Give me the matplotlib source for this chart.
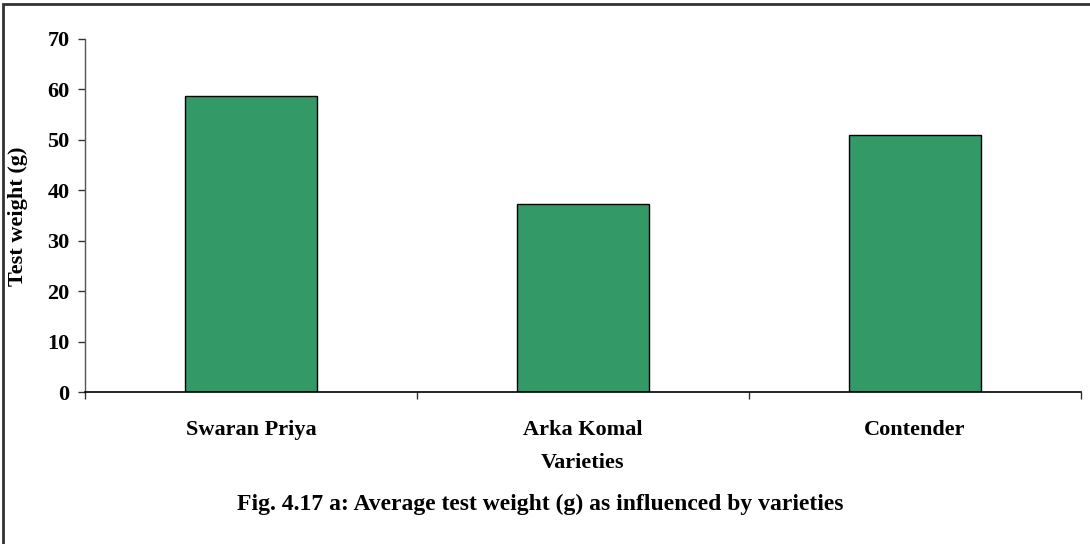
import matplotlib.pyplot as plt
from matplotlib.patches import Rectangle

# average test weight per variety
varieties = ['Swaran Priya', 'Arka Komal', 'Contender']
test_weight = [58.7, 37.3, 51.0]
y_ticks = [0, 10, 20, 30, 40, 50, 60, 70]

plt.rcParams['font.family'] = ['Liberation Serif', 'DejaVu Serif']
plt.rcParams['font.weight'] = 'bold'

W, H = 1090, 544
fig = plt.figure(figsize=(W / 100, H / 100), dpi=100)
ax = fig.add_axes([85 / W, 1 - 392 / H, (1081 - 85) / W, (392 - 39) / H])

x = range(len(varieties))
ax.bar(x, test_weight, width=0.4, color='#339966', edgecolor='black', linewidth=1)

ax.set_xlim(-0.5, len(varieties) - 0.5)
ax.set_ylim(0, 70)
ax.set_yticks(y_ticks)
ax.set_yticklabels([str(t) for t in y_ticks], fontsize=16, fontweight='bold')
ax.set_xticks(list(x))
ax.set_xticklabels(varieties, fontsize=16, fontweight='bold')
ax.set_xticks([i - 0.5 for i in range(len(varieties) + 1)], minor=True)
ax.tick_params(axis='x', which='major', length=0, pad=20)
ax.tick_params(axis='x', which='minor', length=5, direction='out', width=1, color='#333333')
ax.tick_params(axis='y', length=5, width=1, color='#333333', pad=6)

for s in ['top', 'right']:
    ax.spines[s].set_visible(False)
ax.spines['left'].set_color('#555555')
ax.spines['bottom'].set_color('black')
ax.spines['left'].set_linewidth(1)
ax.spines['bottom'].set_linewidth(1.2)

fig.text(18 / W, 1 - 216 / H, 'Test weight (g)', rotation=90, ha='center', va='center',
         fontsize=16, fontweight='bold')
fig.text(583 / W, 1 - 463 / H, 'Varieties', ha='center', va='center',
         fontsize=16, fontweight='bold')
fig.text(540 / W, 1 - 504 / H, 'Fig. 4.17 a: Average test weight (g) as influenced by varieties',
         ha='center', va='center', fontsize=17, fontweight='bold')

# outer frame, only top and left edges fall inside the canvas
fig.patches.append(Rectangle((2.5 / W, -0.1), 1.2, 1 - 4.5 / H + 0.1, transform=fig.transFigure,
                             fill=False, edgecolor='#333333', linewidth=2))

fig.savefig('out.png', dpi=100)
